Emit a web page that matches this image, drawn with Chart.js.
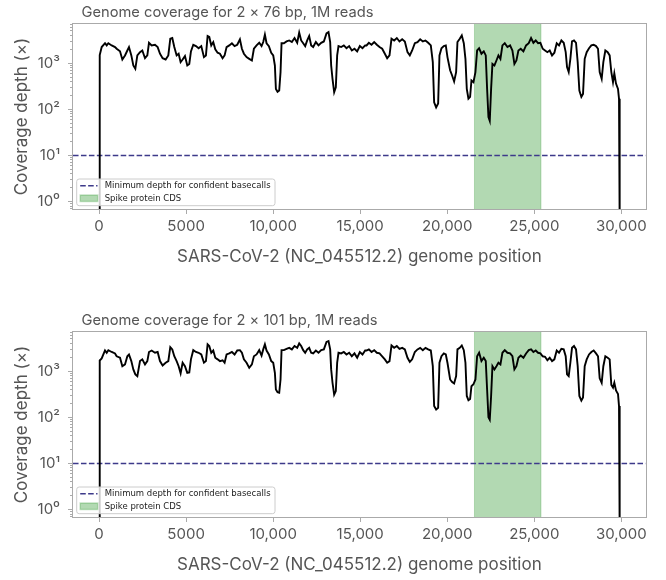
<!DOCTYPE html>
<html><head><meta charset="utf-8">
<script src="https://cdn.jsdelivr.net/npm/chart.js@4.4.0/dist/chart.umd.min.js"></script>
<style>
html,body{margin:0;padding:0;background:#fff;}
body{width:666px;height:580px;position:relative;overflow:hidden;}
.wrap{position:absolute;left:0;width:666px;height:272px;}
#w1{top:0}
#w2{top:308px}
canvas{display:block}
</style></head><body>
<div class="wrap" id="w1"><canvas id="c1" width="666" height="272"></canvas></div>
<div class="wrap" id="w2"><canvas id="c2" width="666" height="272"></canvas></div>
<script>
// ---------------- data ----------------
const POS = [0,40,153,344,440,535,727,918,1013,1205,1339,1492,1626,1721,1855,1970,2085,2200,2353,2487,2640,2774,2869,3022,3213,3367,3500,3653,3826,3979,4093,4208,4323,4457,4572,4686,4801,4935,5069,5184,5279,5413,5566,5720,5873,6026,6140,6236,6332,6446,6561,6676,6810,6944,7097,7212,7326,7480,7632,7786,7939,8092,8206,8321,8474,8627,8780,8895,9048,9201,9335,9431,9527,9622,9756,9890,10005,10100,10158,10253,10349,10425,10483,10617,10770,10923,11076,11229,11382,11497,11611,11726,11841,11956,12070,12185,12300,12453,12606,12759,12912,13065,13180,13276,13333,13410,13505,13600,13677,13754,13907,14060,14213,14366,14519,14672,14826,14979,15132,15285,
15364,15498,15651,15804,15957,16110,16263,16416,16550,16684,16798,16951,17104,17257,17411,17564,17717,17850,17984,18138,18291,18444,18597,18750,18903,19056,19170,19247,19362,19477,19553,19668,19802,19917,20012,20165,20280,20395,20510,20586,20720,20835,20950,21045,21122,21217,21313,21390,21505,21619,21715,21830,21964,22098,22212,22289,22366,22442,22519,22595,22710,22825,22939,23054,23169,23303,23456,23609,23743,23857,23972,24087,24221,24374,24527,24680,24814,24948,25082,25216,25350,25483,25617,25751,25885,26019,26153,26287,26421,26555,26689,26803,26880,26975,27071,27166,27281,27396,27492,27588,27702,27798,27894,28009,28143,28276,28410,28544,28659,28755,28870,28965,29080,29214,29328,29424,29520,29596,29692,29807,29865,29903];

const COV76 = [0.3,1500,2230,2700,2420,2700,2420,2230,2050,1800,1200,1470,1880,2230,1470,890,753,1470,1730,1880,1280,1470,2760,2420,2500,2230,1600,1280,1200,1470,3380,3500,2230,1470,1600,1050,1200,1420,890,960,1800,2500,2340,2100,2340,1350,1470,3880,3700,2420,2860,1990,1680,1600,1280,1470,2230,2420,2700,2340,2500,3280,2050,1600,1350,1240,1140,2050,2420,2760,2340,2860,4150,2700,2340,1680,1470,890,277,240,255,640,2700,2700,2950,3100,2860,3500,2760,4600,3100,2700,2340,3100,3880,2420,2230,2860,2420,2760,2950,4400,4720,2860,890,456,234,300,1470,2340,2230,2420,2100,2340,1880,2050,1800,2340,2100,2420,
2420,2760,2500,2860,2500,2230,2050,1600,1280,1470,3380,3100,3500,2950,3280,2950,1730,1470,1880,2700,2860,3280,2950,3100,2760,2420,1050,142,110,133,1470,2100,2340,2420,1350,700,540,400,640,2860,3380,4000,2700,1240,277,170,185,420,386,640,1880,2100,1600,1800,1470,277,68,56,277,960,890,1140,1470,1240,2420,2700,2230,2420,1880,960,1140,1880,2050,1800,2420,2700,3500,2760,3100,2700,2760,2050,1880,1730,1880,1470,1680,2700,2420,3100,2760,1730,820,640,1240,2950,3100,2760,1050,255,185,215,1240,1730,2100,2420,2500,2340,2050,640,456,1050,1880,1730,1470,640,386,600,360,277,170,0.3];

const COV101 = [0.3,1700,1880,2800,2500,2850,2600,2420,2100,1950,1280,1400,2100,2300,1650,1090,850,780,1650,1800,1400,1650,2600,2800,2500,2600,1650,1330,1520,1650,3300,2960,2100,1650,1280,900,1520,1280,920,940,1800,2850,2600,2500,2300,1520,1650,3800,3500,2500,2800,1950,1800,1650,1720,1520,2300,2420,2600,2300,2800,2850,2500,1800,1520,1180,1400,2100,2300,2850,2170,2960,3800,2800,2300,1650,1520,920,400,350,340,660,2850,2850,3050,3200,2960,3500,3200,4000,3500,2850,2500,2960,3200,2500,2420,2800,2500,2850,2960,4300,4500,2960,1090,560,310,370,1520,2500,2420,2600,2300,2500,2100,2420,1950,2600,2300,2800,
2800,2960,2600,2850,2500,2420,2100,1800,1520,1650,3600,3200,3500,3050,3200,2960,1950,1580,1800,2600,2960,3200,2850,3200,2960,2800,1280,175,147,160,1520,2100,2420,2300,1520,660,580,540,780,2960,3200,3600,2850,1520,290,235,250,470,520,660,2100,2500,1650,1950,1650,400,100,88,290,1280,1090,1280,1520,1400,2500,2850,2500,2420,2100,1090,1280,1950,2170,1950,2420,2850,2960,2600,2800,2500,2420,2100,2050,1720,1950,1650,1800,2800,2500,3050,2960,2100,850,780,1520,3200,3500,2960,1280,290,230,270,1280,1800,2300,2600,2800,2420,2100,700,560,1280,2100,1950,1800,500,440,560,380,320,175,0.3];

const TITLES = ["Genome coverage for 2 \u00d7 76 bp, 1M reads", "Genome coverage for 2 \u00d7 101 bp, 1M reads"];
const X_TITLE = "SARS-CoV-2 (NC_045512.2) genome position";
const Y_TITLE = "Coverage depth (\u00d7)";
const X_TICKS = [0, 5000, 10000, 15000, 20000, 25000, 30000];
const X_TICK_LABELS = ["0", "5000", "10,000", "15,000", "20,000", "25,000", "30,000"];
const Y_MAJOR = [1, 10, 100, 1000];
const Y_MAJOR_LABELS = ["10\u2070", "10\u00b9", "10\u00b2", "10\u00b3"];
const Y_MINOR = [0.7,0.8,0.9,2,3,4,5,6,7,8,9,20,30,40,50,60,70,80,90,200,300,400,500,600,700,800,900,2000,3000,4000,5000,6000,7000];
const X_RANGE = [-1495, 31398];
const Y_RANGE = [0.69, 7050];
const MIN_DEPTH = 10;
const SPIKE = [21563, 25384];
const LEGEND_LABELS = ["Minimum depth for confident basecalls", "Spike protein CDS"];

// ---------------- style ----------------
const TEXT = '#555555';
const SPINE = '#aaaaaa';
const DASH_COLOR = '#3d3a8a';
const DASH = [5.55, 2.4];
const SPIKE_FILL = 'rgba(0,128,0,0.30)';
const SPIKE_EDGE = 'rgba(0,128,0,0.22)';

Chart.defaults.font.family = 'Inter';
Chart.defaults.color = TEXT;

const decor = {
  id: 'decor',
  beforeDatasetsDraw(chart) {
    const {ctx, chartArea: a, scales: {x}} = chart;
    const x0 = x.getPixelForValue(SPIKE[0]), x1 = x.getPixelForValue(SPIKE[1]);
    ctx.save();
    ctx.fillStyle = SPIKE_FILL;
    ctx.fillRect(x0, a.top, x1 - x0, a.bottom - a.top);
    ctx.strokeStyle = SPIKE_EDGE; ctx.lineWidth = 1;
    ctx.beginPath();
    ctx.moveTo(x0, a.top); ctx.lineTo(x0, a.bottom);
    ctx.moveTo(x1, a.top); ctx.lineTo(x1, a.bottom);
    ctx.stroke();
    ctx.restore();
  },
  afterDatasetsDraw(chart) {
    const {ctx, chartArea: a} = chart;
    ctx.save();
    // frame
    ctx.strokeStyle = SPINE; ctx.lineWidth = 1;
    ctx.strokeRect(Math.round(a.left) - 0.5, Math.round(a.top) - 0.5, Math.round(a.right - a.left) + 1, Math.round(a.bottom - a.top) + 1);
    // legend
    const bx = a.left + 3.7, by = a.bottom - 30, bw = 198.3, bh = 26.7;
    ctx.beginPath();
    ctx.roundRect(bx, by, bw, bh, 2.5);
    ctx.fillStyle = 'rgba(255,255,255,0.8)';
    ctx.fill();
    ctx.strokeStyle = '#cccccc'; ctx.lineWidth = 1;
    ctx.stroke();
    ctx.beginPath();
    ctx.setLineDash(DASH);
    ctx.strokeStyle = DASH_COLOR; ctx.lineWidth = 1.5;
    ctx.moveTo(bx + 3.5, by + 6.8); ctx.lineTo(bx + 20.8, by + 6.8);
    ctx.stroke();
    ctx.setLineDash([]);
    ctx.fillStyle = SPIKE_FILL;
    ctx.fillRect(bx + 3.5, by + 16, 17.5, 6.5);
    ctx.strokeStyle = SPIKE_EDGE;
    ctx.strokeRect(bx + 3.5, by + 16, 17.5, 6.5);
    ctx.fillStyle = '#222222';
    ctx.font = '8.5px "DejaVu Sans"';
    ctx.textBaseline = 'middle';
    ctx.textAlign = 'left';
    ctx.fillText(LEGEND_LABELS[0], bx + 28, by + 7);
    ctx.fillText(LEGEND_LABELS[1], bx + 28, by + 19.8);
    ctx.restore();
  },
  afterDraw(chart, args, opts) {
    const {ctx, chartArea: a} = chart;
    ctx.save();
    ctx.fillStyle = TEXT;
    ctx.font = '14.7px Inter';
    ctx.textBaseline = 'middle';
    ctx.textAlign = 'left';
    ctx.fillText(opts.title, a.left + 8.5, a.top - 11.5);
    ctx.restore();
  }
};

function makeChart(id, cov, title) {
  return new Chart(document.getElementById(id), {
    type: 'line',
    data: {
      datasets: [
        {
          label: 'coverage',
          data: POS.map((p, i) => ({x: p, y: cov[i]})),
          borderColor: '#000000', borderWidth: 1.9,
          pointRadius: 0, tension: 0, fill: false, order: 0
        },
        {
          label: LEGEND_LABELS[0],
          data: [{x: X_RANGE[0], y: MIN_DEPTH}, {x: X_RANGE[1], y: MIN_DEPTH}],
          borderColor: DASH_COLOR, borderWidth: 1.5, borderDash: DASH,
          pointRadius: 0, fill: false, order: 1
        }
      ]
    },
    options: {
      responsive: false,
      animation: false,
      devicePixelRatio: 1,
      layout: {padding: {top: 24, right: 20.3, bottom: 0, left: 0}},
      plugins: {legend: {display: false}, tooltip: {enabled: false}, decor: {title: title}},
      scales: {
        x: {
          type: 'linear', min: X_RANGE[0], max: X_RANGE[1],
          afterBuildTicks: s => { s.ticks = X_TICKS.map(v => ({value: v})); },
          afterFit: s => { s.height = 63; },
          ticks: {
            autoSkip: false, maxRotation: 0, padding: 3,
            font: {family: 'Inter', size: 15}, color: TEXT,
            callback: v => X_TICK_LABELS[X_TICKS.indexOf(v)]
          },
          grid: {drawOnChartArea: false, drawTicks: true, tickLength: 5, tickColor: SPINE, tickWidth: 1},
          border: {display: false},
          title: {display: true, text: X_TITLE, color: TEXT, font: {family: 'Inter', size: 17}, padding: {top: 0, bottom: 5}}
        },
        y: {
          type: 'logarithmic', position: 'left', weight: 1,
          min: Y_RANGE[0], max: Y_RANGE[1],
          afterBuildTicks: s => { s.ticks = Y_MAJOR.map(v => ({value: v})); },
          afterFit: s => { s.width = 73; },
          ticks: {
            autoSkip: false, padding: 8,
            font: {family: 'Inter', size: 15}, color: TEXT,
            callback: v => Y_MAJOR_LABELS[Y_MAJOR.indexOf(v)]
          },
          grid: {drawOnChartArea: false, drawTicks: true, tickLength: 5, tickColor: SPINE, tickWidth: 1},
          border: {display: false},
          title: {display: true, text: Y_TITLE, color: TEXT, font: {family: 'Inter', size: 17}, padding: {top: 12, bottom: 0}}
        },
        yMinor: {
          type: 'logarithmic', position: 'left', weight: 0,
          min: Y_RANGE[0], max: Y_RANGE[1],
          afterBuildTicks: s => { s.ticks = Y_MINOR.map(v => ({value: v})); },
          afterFit: s => { s.width = 0; },
          ticks: {display: false},
          grid: {drawOnChartArea: false, drawTicks: true, tickLength: 3, tickColor: SPINE, tickWidth: 1},
          border: {display: false}
        }
      }
    },
    plugins: [decor]
  });
}

makeChart('c1', COV76, TITLES[0]);
makeChart('c2', COV101, TITLES[1]);
</script>
</body></html>
